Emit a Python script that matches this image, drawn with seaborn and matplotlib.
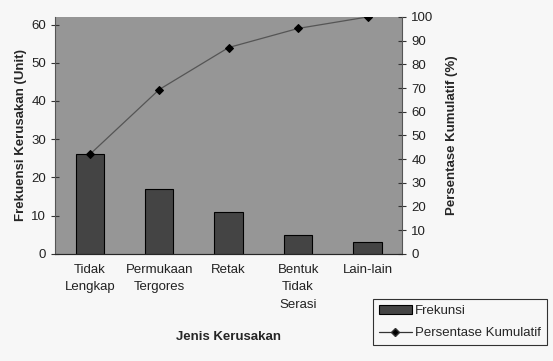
import numpy as np
import pandas as pd
import seaborn as sns
import matplotlib.pyplot as plt
from matplotlib.lines import Line2D
from matplotlib.patches import Patch

# data
kategori = ["Tidak\nLengkap", "Permukaan\nTergores", "Retak", "Bentuk\nTidak\nSerasi", "Lain-lain"]
frekuensi = [26, 17, 11, 5, 3]
total = sum(frekuensi)
kumulatif = list(np.cumsum(frekuensi) / total * 100)

df = pd.DataFrame({"Jenis": kategori, "Frekuensi": frekuensi, "Kumulatif": kumulatif})

sns.set_style("white")
plt.rcParams['font.family'] = ['Liberation Sans', 'DejaVu Sans']
fs = 9.5

fig = plt.figure(figsize=(5.53, 3.61), dpi=100, facecolor='#f7f7f7')
ax = fig.add_axes([0.0995, 0.297, 0.628, 0.656])
ax.set_facecolor('#969696')

sns.barplot(data=df, x="Jenis", y="Frekuensi", color='#444444', edgecolor='black',
            linewidth=0.8, width=0.41, saturation=1, ax=ax)
ax.set_xlim(-0.5, len(kategori) - 0.5)
ax.set_ylim(0, total)
ax.set_yticks(range(0, 61, 10))

ax2 = ax.twinx()
sns.lineplot(x=np.arange(len(kategori)), y=df["Kumulatif"], color='#555555', linewidth=0.9,
             marker='D', markersize=4.5, markerfacecolor='black', markeredgecolor='black', ax=ax2)
ax2.set_ylim(0, 100)
ax2.set_yticks(range(0, 101, 10))

ax.spines['top'].set_visible(False)
ax2.spines['top'].set_visible(False)
ax.spines['right'].set_visible(False)
ax2.spines['left'].set_visible(False)
ax2.spines['right'].set_color('#555555')
ax.spines['left'].set_color('#555555')
ax.spines['bottom'].set_color('#555555')

# tick marks between categories
ax.set_xticks(np.arange(len(kategori)))
ax.set_xticklabels(kategori, linespacing=1.65)
ax.set_xticks(np.arange(-0.5, len(kategori)), minor=True)
ax.tick_params(axis='x', which='major', length=0, pad=7, labelsize=fs, labelcolor='#222222')
ax.tick_params(axis='x', which='minor', length=5, direction='in', color='#333333')
ax.tick_params(axis='y', length=6, direction='inout', labelsize=fs, labelcolor='#222222', color='#333333', left=True)
ax2.tick_params(axis='y', length=6, direction='inout', labelsize=fs, labelcolor='#222222', color='#333333', right=True)

ax.set_xlabel("Jenis Kerusakan", fontsize=fs, fontweight='bold', labelpad=14)
ax.set_ylabel("Frekuensi Kerusakan (Unit)", fontsize=fs, fontweight='bold', labelpad=3)
ax2.set_ylabel("Persentase Kumulatif (%)", fontsize=fs, fontweight='bold', labelpad=9)

handles = [Patch(facecolor='#444444', edgecolor='black', linewidth=0.8),
           Line2D([0], [0], color='#333333', linewidth=0.9, marker='D', markersize=4,
                  markerfacecolor='black')]
leg = fig.legend(handles, ["Frekunsi", "Persentase Kumulatif"], loc='upper left',
                 bbox_to_anchor=(0.674, 0.172), frameon=True, fancybox=False, fontsize=fs,
                 handlelength=2.5, handletextpad=0.25, borderpad=0.45, labelspacing=0.75,
                 borderaxespad=0)
leg.get_frame().set_edgecolor('black')
leg.get_frame().set_facecolor('#f7f7f7')
leg.get_frame().set_linewidth(0.8)

fig.savefig("out.png", dpi=100, facecolor=fig.get_facecolor())
